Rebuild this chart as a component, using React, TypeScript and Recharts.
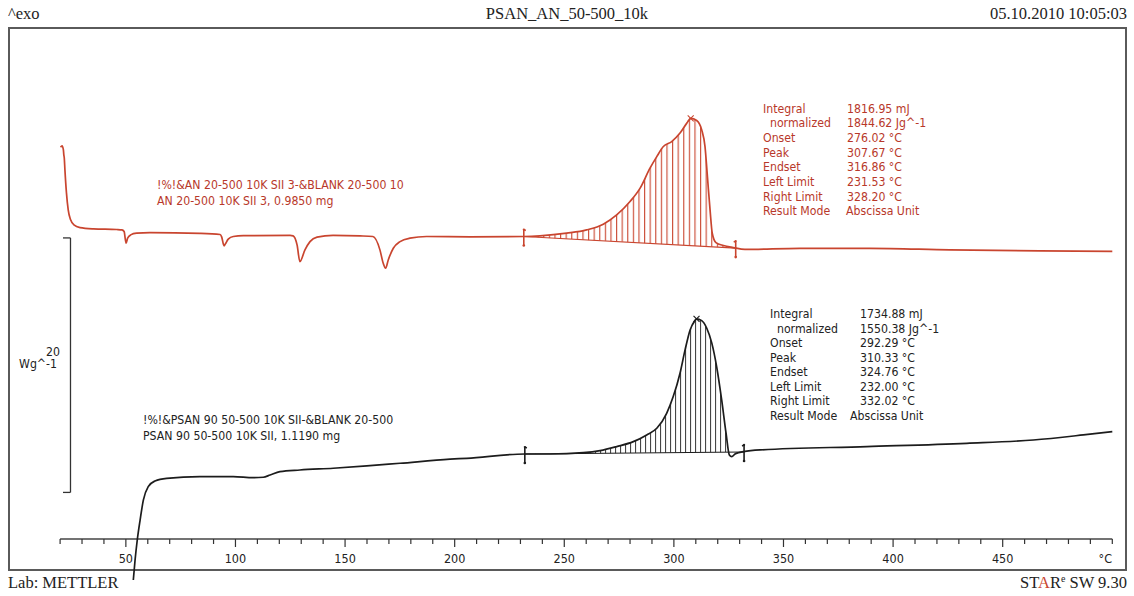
import React from "react"
import { ComposedChart, Line, Area, XAxis, YAxis, ReferenceLine, ReferenceDot } from "recharts"

// DSC traces: temperature in °C, heat flow in Wg^-1 (curves are offset)
const redTemp = [
  20.2, 20.9, 21.5, 21.7, 21.9, 22.2, 22.9, 23.7, 24.8, 26.3, 29.1, 35.2, 45.8, 48.2, 49.2, 50.1,
  50.8, 52.2, 54.9, 61.0, 83.8, 93.0, 93.7, 94.8, 95.4, 96.7, 99.0, 103.6, 124.9, 126.3, 128.1,
  129.4, 131.7, 134.0, 137.2, 144.5, 156.8, 162.7, 165.9, 167.4, 168.5, 169.7, 172.0, 175.1, 179.6,
  187.2, 207.0, 231.5, 238.9, 251.1, 260.2, 267.8, 273.9, 280.0, 284.6, 289.1, 292.2, 295.2, 299.0,
  302.8, 305.9, 307.7, 310.4, 312.7, 314.2, 315.3, 316.5, 317.5, 319.2, 322.6, 327.1, 332.4, 357.5,
  389.4, 425.9, 466.9, 500.0,
]
const redFlow = [
  30.78, 30.9, 30.58, 30.19, 29.95, 29.01, 27.2, 25.86, 25.08, 24.69, 24.47, 24.37, 24.32, 24.29,
  24.16, 23.25, 23.64, 23.9, 24.03, 24.08, 24.02, 23.93, 23.74, 23.03, 23.19, 23.56, 23.77, 23.84,
  23.86, 23.82, 23.11, 21.8, 22.72, 23.37, 23.72, 23.86, 23.82, 23.77, 22.72, 21.67, 21.28, 21.93,
  22.85, 23.37, 23.64, 23.77, 23.74, 23.77, 23.82, 24.03, 24.29, 24.74, 25.47, 26.52, 27.57, 29.14,
  30.05, 30.84, 31.23, 31.9, 32.68, 33.05, 32.89, 32.15, 30.84, 28.48, 25.86, 24.03, 23.29, 23.06,
  22.9, 22.76, 22.84, 22.84, 22.72, 22.64, 22.6,
]
const blackTemp = [
  53.4, 54.2, 55.2, 56.5, 58.0, 60.2, 63.3, 68.6, 83.8, 99.0, 108.1, 112.7, 115.8, 120.3, 129.4,
  144.6, 159.9, 175.1, 197.9, 205.5, 232.0, 243.5, 258.7, 266.3, 273.9, 281.5, 287.6, 292.2, 296.7,
  299.7, 302.8, 305.1, 307.4, 309.6, 310.3, 312.7, 315.0, 317.3, 319.5, 321.8, 323.8, 325.3, 326.4,
  327.9, 329.4, 331.7, 339.3, 388.0, 433.6, 464.0, 486.8, 500.0,
]
const blackFlow = [
  -3.22, -1.65, -0.08, 1.49, 3.07, 4.11, 4.56, 4.77, 4.9, 4.9, 4.82, 4.85, 5.03, 5.29, 5.42, 5.56,
  5.74, 5.95, 6.27, 6.34, 6.68, 6.68, 6.78, 6.94, 7.26, 7.65, 8.18, 8.7, 9.88, 11.19, 13.03, 14.86,
  16.43, 17.16, 17.3, 17.16, 16.56, 15.39, 13.55, 10.93, 8.31, 6.6, 6.47, 6.68, 6.78, 6.86, 7.0,
  7.26, 7.52, 7.78, 8.18, 8.44,
]

// integration limits, baseline heat flow at the limits, peak
const redLimits = [231.53, 328.2]
const redBase = [23.77, 22.86]
const redPeak = [307.67, 33.05]
const blackLimits = [232.0, 332.02]
const blackBase = [6.68, 6.84]
const blackPeak = [310.33, 17.3]

const resultLabels = ["Integral", "  normalized", "Onset", "Peak", "Endset", "Left Limit", "Right Limit", "Result Mode"]
const redResults = ["1816.95 mJ", "1844.62 Jg^-1", "276.02 °C", "307.67 °C", "316.86 °C", "231.53 °C", "328.20 °C", "Abscissa Unit"]
const blackResults = ["1734.88 mJ", "1550.38 Jg^-1", "292.29 °C", "310.33 °C", "324.76 °C", "232.00 °C", "332.02 °C", "Abscissa Unit"]

const redCaption = ["!%!&AN 20-500 10K SII 3-&BLANK 20-500 10", "AN 20-500 10K SII 3, 0.9850 mg"]
const blackCaption = ["!%!&PSAN 90 50-500 10K SII-&BLANK 20-500", "PSAN 90 50-500 10K SII, 1.1190 mg"]

// 20 Wg^-1 scale bar on the left
const scaleBarTemp = [24.74, 21.32]
const scaleBarFlow = [3.66, 23.66]

const labelledTicks = [50, 100, 150, 200, 250, 300, 350, 400, 450]
const axisTicks = Array.from({ length: 49 }, (_, i) => 20 + i * 10)

const RED = "#c9452f"
const RED_TEXT = "#b8382a"
const BLACK = "#1c1c1c"
const SANS = '"DejaVu Sans Condensed", "DejaVu Sans", sans-serif'
const SERIF = '"Liberation Serif", "Times New Roman", serif'

const W = 1134
const H = 596
const AXIS_Y = 539
const NOTE_SIZE = 12.2

const toPoints = (temps: number[], flows: number[]) => temps.map((t, i) => ({ t, f: flows[i] }))

function hatchData(temps: number[], flows: number[], limits: number[], base: number[]) {
  const [t0, t1] = limits
  const [b0, b1] = base
  const baseAt = (t: number) => b0 + ((b1 - b0) * (t - t0)) / (t1 - t0)
  const inner = toPoints(temps, flows)
    .filter((p) => p.t > t0 && p.t < t1)
    .map((p) => ({ t: p.t, range: [baseAt(p.t), Math.max(baseAt(p.t), p.f)] }))
  return [{ t: t0, range: [b0, b0] }, ...inner, { t: t1, range: [b1, b1] }]
}

function TempTick(props: any) {
  const { x, payload } = props
  const v = payload.value
  const major = labelledTicks.includes(v)
  const label = v === 500 ? "°C" : major ? String(v) : ""
  return (
    <g>
      <line x1={x} x2={x} y1={AXIS_Y} y2={AXIS_Y + (major ? 8 : 5)} stroke="#333" strokeWidth={1.2} />
      {label && (
        <text x={v === 500 ? x - 7 : x} y={AXIS_Y + 24} textAnchor="middle" fontFamily={SANS} fontSize={12.5} fill="#222">
          {label}
        </text>
      )}
    </g>
  )
}

const limitMark = (color: string, side: "left" | "right") => (props: any) => {
  const { cx, cy } = props
  const d = side === "left" ? 2 : -2
  return (
    <g stroke={color} strokeWidth={1.6} fill={color}>
      <line x1={cx} x2={cx} y1={cy - 7} y2={cy + 9} />
      <line x1={cx} x2={cx + d} y1={cy - 7} y2={cy - 6} />
      <circle cx={cx} cy={cy + 9} r={1.3} stroke="none" />
      <circle cx={cx} cy={cy - 7} r={1.1} stroke="none" />
    </g>
  )
}

const peakMark = (color: string) => (props: any) => {
  const { cx, cy } = props
  return (
    <g stroke={color} strokeWidth={1.1}>
      <line x1={cx - 3} x2={cx + 3} y1={cy - 3} y2={cy + 3} />
      <line x1={cx - 3} x2={cx + 3} y1={cy + 3} y2={cy - 3} />
    </g>
  )
}

function TextBlock({ lines, x, y, step, color }: { lines: string[]; x: number; y: number; step: number; color: string }) {
  return (
    <>
      {lines.map((s, i) => (
        <div
          key={i}
          style={{
            position: "absolute",
            left: x,
            top: y + i * step - 7,
            lineHeight: "14px",
            fontFamily: SANS,
            fontSize: NOTE_SIZE,
            color,
            whiteSpace: "pre",
          }}
        >
          {s}
        </div>
      ))}
    </>
  )
}

export default function App() {
  const red = toPoints(redTemp, redFlow)
  const black = toPoints(blackTemp, blackFlow)
  const redHatch = hatchData(redTemp, redFlow, redLimits, redBase)
  const blackHatch = hatchData(blackTemp, blackFlow, blackLimits, blackBase)

  const headerStyle: React.CSSProperties = {
    position: "absolute",
    fontFamily: SERIF,
    fontSize: 16.5,
    color: "#222",
    lineHeight: "18px",
    whiteSpace: "pre",
  }

  return (
    <div style={{ position: "absolute", left: 0, top: 0, width: W, height: H, background: "#fff", overflow: "hidden" }}>
      <div style={{ ...headerStyle, left: 8, top: 5 }}>^exo</div>
      <div style={{ ...headerStyle, left: 0, width: W, top: 5, textAlign: "center" }}>PSAN_AN_50-500_10k</div>
      <div style={{ ...headerStyle, right: 7, top: 5 }}>05.10.2010 10:05:03</div>

      <div
        style={{
          position: "absolute",
          left: 8,
          top: 27,
          width: 1119,
          height: 544,
          boxSizing: "border-box",
          border: "2px solid #5a5a5a",
        }}
      />

      <div style={{ ...headerStyle, left: 8, top: 574 }}>Lab: METTLER</div>
      <div style={{ ...headerStyle, right: 7, top: 574 }}>
        ST<span style={{ color: RED }}>A</span>R<sup style={{ fontSize: 10, verticalAlign: "6px", lineHeight: 0 }}>e</sup> SW 9.30
      </div>

      <div style={{ position: "absolute", left: 0, top: 0 }}>
        <ComposedChart width={W} height={H} margin={{ top: 30, right: 21.7, bottom: 3.75, left: 60.1 }}>
          <defs>
            <pattern id="hatchRed" patternUnits="userSpaceOnUse" width={5.6} height={10}>
              <line x1={0.6} x2={0.6} y1={0} y2={10} stroke={RED} strokeWidth={1.1} />
            </pattern>
            <pattern id="hatchBlack" patternUnits="userSpaceOnUse" width={5} height={10}>
              <line x1={0.6} x2={0.6} y1={0} y2={10} stroke={BLACK} strokeWidth={0.9} />
            </pattern>
          </defs>
          <XAxis
            type="number"
            dataKey="t"
            domain={[20, 500]}
            ticks={axisTicks}
            interval={0}
            height={10}
            axisLine={false}
            tickLine={false}
            tick={(p: any) => <TempTick {...p} />}
          />
          <YAxis type="number" domain={[-3.4, 40]} hide />

          <ReferenceLine y={0} stroke="#444" strokeWidth={1.6} />

          <ReferenceLine
            segment={[{ x: scaleBarTemp[0], y: scaleBarFlow[0] }, { x: scaleBarTemp[0], y: scaleBarFlow[1] }]}
            stroke="#333"
            strokeWidth={1.3}
          />
          <ReferenceLine
            segment={[{ x: scaleBarTemp[1], y: scaleBarFlow[0] }, { x: scaleBarTemp[0], y: scaleBarFlow[0] }]}
            stroke="#333"
            strokeWidth={1.3}
          />
          <ReferenceLine
            segment={[{ x: scaleBarTemp[1], y: scaleBarFlow[1] }, { x: scaleBarTemp[0], y: scaleBarFlow[1] }]}
            stroke="#333"
            strokeWidth={1.3}
          />

          <Area
            data={redHatch}
            dataKey="range"
            type="monotone"
            stroke="none"
            fill="url(#hatchRed)"
            fillOpacity={1}
            isAnimationActive={false}
          />
          <Area
            data={blackHatch}
            dataKey="range"
            type="monotone"
            stroke="none"
            fill="url(#hatchBlack)"
            fillOpacity={1}
            isAnimationActive={false}
          />

          <ReferenceLine
            segment={[{ x: redLimits[0], y: redBase[0] }, { x: redLimits[1], y: redBase[1] }]}
            stroke={RED}
            strokeWidth={1.2}
          />
          <ReferenceLine
            segment={[{ x: blackLimits[0], y: blackBase[0] }, { x: blackLimits[1], y: blackBase[1] }]}
            stroke={BLACK}
            strokeWidth={1.1}
          />

          <Line data={red} dataKey="f" type="monotone" stroke={RED} strokeWidth={1.7} dot={false} activeDot={false} isAnimationActive={false} />
          <Line data={black} dataKey="f" type="monotone" stroke={BLACK} strokeWidth={1.7} dot={false} activeDot={false} isAnimationActive={false} />

          <ReferenceDot x={redLimits[0]} y={redBase[0]} shape={limitMark(RED, "left")} />
          <ReferenceDot x={redLimits[1]} y={redBase[1]} shape={limitMark(RED, "right")} />
          <ReferenceDot x={blackLimits[0]} y={blackBase[0]} shape={limitMark(BLACK, "left")} />
          <ReferenceDot x={blackLimits[1]} y={blackBase[1]} shape={limitMark(BLACK, "right")} />
          <ReferenceDot x={redPeak[0]} y={redPeak[1]} shape={peakMark(RED)} />
          <ReferenceDot x={blackPeak[0]} y={blackPeak[1]} shape={peakMark(BLACK)} />
        </ComposedChart>
      </div>

      <div style={{ position: "absolute", right: W - 60, top: 345, fontFamily: SANS, fontSize: NOTE_SIZE, lineHeight: "14px", color: "#222" }}>
        20
      </div>
      <div style={{ position: "absolute", right: W - 57, top: 357, fontFamily: SANS, fontSize: NOTE_SIZE, lineHeight: "14px", color: "#222", whiteSpace: "pre" }}>
        Wg^-1
      </div>

      <TextBlock lines={redCaption} x={157} y={185} step={15.5} color={RED_TEXT} />
      <TextBlock lines={blackCaption} x={143} y={420} step={16} color="#222" />

      <TextBlock lines={resultLabels} x={763} y={108.5} step={14.7} color={RED_TEXT} />
      <TextBlock lines={redResults.slice(0, 7)} x={847} y={108.5} step={14.7} color={RED_TEXT} />
      <TextBlock lines={redResults.slice(7)} x={846} y={108.5 + 7 * 14.7} step={14.7} color={RED_TEXT} />

      <TextBlock lines={resultLabels} x={770} y={314} step={14.5} color="#222" />
      <TextBlock lines={blackResults.slice(0, 7)} x={860} y={314} step={14.5} color="#222" />
      <TextBlock lines={blackResults.slice(7)} x={850} y={314 + 7 * 14.5} step={14.5} color="#222" />
    </div>
  )
}
